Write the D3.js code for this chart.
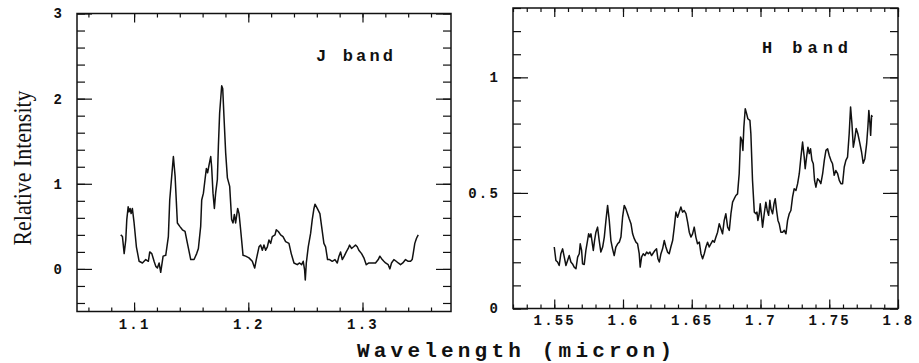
<!DOCTYPE html>
<html>
<head>
<meta charset="utf-8">
<script src="https://cdn.jsdelivr.net/npm/d3@7"></script>
<style>
  html, body { margin: 0; padding: 0; background: #fff; }
  svg { display: block; }
  .tick text { font-family: "Liberation Mono", monospace; font-size: 14px; font-weight: bold; letter-spacing: 2.2px; fill: #111; }
  .tick line { stroke: #111; stroke-width: 1.2px; }
</style>
</head>
<body>
<div id="chart"></div>
<script>
// J band spectrum (wavelength in micron, relative intensity)
const jWave = [1.0883, 1.0898, 1.0913, 1.0927, 1.0936, 1.0948, 1.0956, 1.0965, 1.0974, 1.0985,
  1.1000, 1.1020, 1.1044, 1.1073, 1.1102, 1.1125, 1.1137, 1.1155, 1.1175, 1.1190,
  1.1204, 1.1219, 1.1233, 1.1254, 1.1277, 1.1300, 1.1312, 1.1335, 1.1344, 1.1359,
  1.1379, 1.1400, 1.1423, 1.1446, 1.1467, 1.1496, 1.1525, 1.1548, 1.1563, 1.1583,
  1.1592, 1.1607, 1.1621, 1.1633, 1.1644, 1.1656, 1.1671, 1.1679, 1.1691, 1.1703,
  1.1714, 1.1729, 1.1738, 1.1749, 1.1758, 1.1767, 1.1776, 1.1787, 1.1802, 1.1817,
  1.1837, 1.1854, 1.1866, 1.1878, 1.1889, 1.1907, 1.1919, 1.1933, 1.1954, 1.1977,
  1.2006, 1.2035, 1.2056, 1.2070, 1.2094, 1.2108, 1.2123, 1.2137, 1.2152, 1.2167,
  1.2181, 1.2196, 1.2210, 1.2234, 1.2245, 1.2263, 1.2283, 1.2304, 1.2327, 1.2356,
  1.2376, 1.2400, 1.2429, 1.2449, 1.2467, 1.2481, 1.2493, 1.2499, 1.2508, 1.2525,
  1.2546, 1.2560, 1.2575, 1.2584, 1.2604, 1.2627, 1.2642, 1.2662, 1.2677, 1.2694,
  1.2712, 1.2735, 1.2759, 1.2779, 1.2794, 1.2808, 1.2823, 1.2840, 1.2858, 1.2875,
  1.2887, 1.2904, 1.2922, 1.2939, 1.2954, 1.2968, 1.2992, 1.3012, 1.3033, 1.3056,
  1.3085, 1.3114, 1.3138, 1.3152, 1.3173, 1.3187, 1.3202, 1.3225, 1.3240, 1.3254,
  1.3275, 1.3295, 1.3313, 1.3333, 1.3353, 1.3377, 1.3400, 1.3421, 1.3435, 1.3444,
  1.3458, 1.3473, 1.3488];
const jFlux = [0.40, 0.38, 0.18, 0.34, 0.58, 0.73, 0.67, 0.71, 0.65, 0.71,
  0.54, 0.26, 0.09, 0.07, 0.11, 0.09, 0.20, 0.18, 0.09, 0.03,
  0.01, 0.07, -0.04, 0.15, 0.16, 0.38, 0.81, 1.18, 1.32, 1.09,
  0.54, 0.50, 0.46, 0.44, 0.30, 0.11, 0.11, 0.18, 0.24, 0.50,
  0.81, 0.89, 1.05, 1.18, 1.13, 1.22, 1.32, 1.20, 0.89, 0.71,
  0.89, 1.05, 1.44, 1.83, 1.99, 2.15, 2.12, 1.79, 1.36, 1.07,
  0.97, 0.58, 0.54, 0.64, 0.54, 0.71, 0.65, 0.46, 0.16, 0.15,
  0.13, 0.09, 0.01, 0.11, 0.26, 0.28, 0.22, 0.28, 0.22, 0.26,
  0.34, 0.30, 0.38, 0.40, 0.46, 0.44, 0.40, 0.38, 0.32, 0.30,
  0.18, 0.07, 0.05, 0.07, 0.05, 0.09, -0.01, -0.13, 0.07, 0.26,
  0.42, 0.58, 0.71, 0.76, 0.71, 0.65, 0.50, 0.30, 0.26, 0.11,
  0.11, 0.09, 0.11, 0.07, 0.15, 0.20, 0.11, 0.15, 0.20, 0.24,
  0.28, 0.24, 0.26, 0.28, 0.26, 0.22, 0.18, 0.13, 0.05, 0.07,
  0.07, 0.07, 0.11, 0.15, 0.11, 0.09, 0.07, 0.05, 0.00, 0.07,
  0.11, 0.09, 0.07, 0.05, 0.07, 0.11, 0.09, 0.09, 0.11, 0.18,
  0.30, 0.36, 0.40];

// H band spectrum
const hWave = [1.5500, 1.5512, 1.5524, 1.5536, 1.5548, 1.5561, 1.5573, 1.5585, 1.5597, 1.5609,
  1.5621, 1.5633, 1.5645, 1.5658, 1.5670, 1.5682, 1.5689, 1.5699, 1.5706, 1.5718,
  1.5730, 1.5742, 1.5750, 1.5759, 1.5767, 1.5774, 1.5784, 1.5793, 1.5803, 1.5815,
  1.5827, 1.5839, 1.5852, 1.5864, 1.5876, 1.5888, 1.5900, 1.5912, 1.5924, 1.5936,
  1.5948, 1.5961, 1.5973, 1.5985, 1.5997, 1.6009, 1.6021, 1.6033, 1.6045, 1.6058,
  1.6070, 1.6082, 1.6094, 1.6106, 1.6118, 1.6125, 1.6135, 1.6147, 1.6159, 1.6172,
  1.6184, 1.6196, 1.6208, 1.6220, 1.6232, 1.6244, 1.6254, 1.6264, 1.6276, 1.6288,
  1.6300, 1.6312, 1.6324, 1.6336, 1.6348, 1.6361, 1.6373, 1.6385, 1.6397, 1.6409,
  1.6421, 1.6433, 1.6445, 1.6458, 1.6470, 1.6482, 1.6494, 1.6506, 1.6518, 1.6530,
  1.6542, 1.6555, 1.6567, 1.6579, 1.6591, 1.6603, 1.6615, 1.6627, 1.6639, 1.6652,
  1.6664, 1.6676, 1.6688, 1.6700, 1.6712, 1.6724, 1.6736, 1.6748, 1.6761, 1.6773,
  1.6785, 1.6797, 1.6809, 1.6821, 1.6833, 1.6845, 1.6855, 1.6865, 1.6872, 1.6879,
  1.6889, 1.6899, 1.6908, 1.6923, 1.6930, 1.6942, 1.6955, 1.6967, 1.6974, 1.6981,
  1.6991, 1.6998, 1.7008, 1.7015, 1.7027, 1.7039, 1.7049, 1.7059, 1.7068, 1.7076,
  1.7088, 1.7098, 1.7107, 1.7117, 1.7127, 1.7136, 1.7148, 1.7161, 1.7173, 1.7185,
  1.7197, 1.7209, 1.7221, 1.7233, 1.7245, 1.7258, 1.7270, 1.7282, 1.7294, 1.7306,
  1.7318, 1.7325, 1.7335, 1.7345, 1.7355, 1.7364, 1.7374, 1.7384, 1.7393, 1.7403,
  1.7415, 1.7427, 1.7439, 1.7452, 1.7464, 1.7476, 1.7488, 1.7500, 1.7512, 1.7524,
  1.7536, 1.7548, 1.7561, 1.7573, 1.7585, 1.7597, 1.7609, 1.7621, 1.7633, 1.7645,
  1.7655, 1.7665, 1.7675, 1.7684, 1.7696, 1.7708, 1.7723, 1.7735, 1.7747, 1.7759,
  1.7772, 1.7781, 1.7788, 1.7796, 1.7801, 1.7808, 1.7813];
const hFlux = [0.266, 0.208, 0.201, 0.186, 0.237, 0.258, 0.222, 0.186, 0.208, 0.229,
  0.201, 0.193, 0.179, 0.172, 0.222, 0.237, 0.280, 0.251, 0.193, 0.190,
  0.251, 0.294, 0.323, 0.309, 0.323, 0.294, 0.251, 0.294, 0.330, 0.352,
  0.294, 0.244, 0.266, 0.309, 0.381, 0.446, 0.381, 0.294, 0.258, 0.229,
  0.266, 0.280, 0.287, 0.309, 0.395, 0.446, 0.431, 0.410, 0.388, 0.367,
  0.323, 0.302, 0.287, 0.280, 0.237, 0.179, 0.222, 0.237, 0.229, 0.244,
  0.237, 0.244, 0.229, 0.240, 0.251, 0.258, 0.215, 0.201, 0.237, 0.258,
  0.294, 0.266, 0.244, 0.237, 0.266, 0.294, 0.352, 0.417, 0.395, 0.417,
  0.439, 0.417, 0.424, 0.410, 0.374, 0.330, 0.309, 0.323, 0.352, 0.309,
  0.280, 0.287, 0.237, 0.215, 0.237, 0.266, 0.287, 0.266, 0.280, 0.294,
  0.287, 0.309, 0.330, 0.367, 0.345, 0.323, 0.381, 0.410, 0.352, 0.338,
  0.410, 0.460, 0.475, 0.489, 0.496, 0.583, 0.742, 0.727, 0.684, 0.785,
  0.864, 0.843, 0.821, 0.814, 0.756, 0.554, 0.417, 0.410, 0.417, 0.381,
  0.410, 0.453, 0.395, 0.352, 0.410, 0.460, 0.424, 0.403, 0.468, 0.431,
  0.410, 0.453, 0.475, 0.424, 0.381, 0.367, 0.330, 0.330, 0.338, 0.323,
  0.381, 0.410, 0.424, 0.482, 0.518, 0.511, 0.540, 0.583, 0.655, 0.720,
  0.655, 0.605, 0.655, 0.698, 0.670, 0.691, 0.641, 0.626, 0.554, 0.525,
  0.561, 0.554, 0.540, 0.583, 0.641, 0.684, 0.691, 0.662, 0.641, 0.626,
  0.576, 0.597, 0.583, 0.554, 0.540, 0.540, 0.612, 0.641, 0.655, 0.756,
  0.872, 0.799, 0.698, 0.727, 0.779, 0.756, 0.713, 0.677, 0.628, 0.648,
  0.713, 0.785, 0.857, 0.799, 0.749, 0.835, 0.828];

// tick labels
const jXTicks = [1.1, 1.2, 1.3];
const jYTicks = [0, 1, 2, 3];
const hXTicks = [1.55, 1.6, 1.65, 1.7, 1.75, 1.8];
const hYTicks = [0, 0.5, 1];

const width = 919, height = 363;

const svg = d3.select('#chart').append('svg')
  .attr('width', width)
  .attr('height', height);

svg.append('rect').attr('width', width).attr('height', height).attr('fill', '#fff');

function minorTicks(domain, step) {
  const i0 = Math.ceil(domain[0] / step - 1e-6);
  const i1 = Math.floor(domain[1] / step + 1e-6);
  return d3.range(i0, i1 + 1).map(i => +(i * step).toFixed(4));
}

function drawPanel(p) {
  const x = d3.scaleLinear().domain(p.xDomain).range([p.left, p.right]);
  const y = d3.scaleLinear().domain(p.yDomain).range([p.bottom, p.top]);
  const g = svg.append('g');

  const xMinor = minorTicks(p.xDomain, p.xStep);
  const yMinor = minorTicks(p.yDomain, p.yStep);

  // bottom axis: labels + major ticks, then minor ticks
  g.append('g').attr('transform', `translate(0,${p.bottom})`)
    .call(d3.axisBottom(x).tickValues(p.xTicks).tickSize(-9).tickSizeOuter(0).tickPadding(p.xPad).tickFormat(d => String(d)));
  g.append('g').attr('transform', `translate(0,${p.bottom})`)
    .call(d3.axisBottom(x).tickValues(xMinor).tickSize(-4).tickSizeOuter(0).tickFormat(''));
  // top axis (ticks only)
  g.append('g').attr('transform', `translate(0,${p.top})`)
    .call(d3.axisTop(x).tickValues(p.xTicks).tickSize(-9).tickSizeOuter(0).tickFormat(''));
  g.append('g').attr('transform', `translate(0,${p.top})`)
    .call(d3.axisTop(x).tickValues(xMinor).tickSize(-4).tickSizeOuter(0).tickFormat(''));

  // left axis
  g.append('g').attr('transform', `translate(${p.left},0)`)
    .call(d3.axisLeft(y).tickValues(p.yTicks).tickSize(-15).tickSizeOuter(0).tickPadding(13).tickFormat(d => String(d)));
  g.append('g').attr('transform', `translate(${p.left},0)`)
    .call(d3.axisLeft(y).tickValues(yMinor).tickSize(-8).tickSizeOuter(0).tickFormat(''));
  // right axis (ticks only)
  g.append('g').attr('transform', `translate(${p.right},0)`)
    .call(d3.axisRight(y).tickValues(p.yTicks).tickSize(-15).tickSizeOuter(0).tickFormat(''));
  g.append('g').attr('transform', `translate(${p.right},0)`)
    .call(d3.axisRight(y).tickValues(yMinor).tickSize(-8).tickSizeOuter(0).tickFormat(''));

  g.selectAll('.domain').remove();

  // frame
  g.append('rect')
    .attr('x', p.left).attr('y', p.top)
    .attr('width', p.right - p.left).attr('height', p.bottom - p.top)
    .attr('fill', 'none').attr('stroke', '#111').attr('stroke-width', 1.5);

  // spectrum
  const pts = p.wave.map((w, i) => [w, p.flux[i]]);
  g.append('path')
    .datum(pts)
    .attr('fill', 'none')
    .attr('stroke', '#111')
    .attr('stroke-width', 1.5)
    .attr('stroke-linejoin', 'round')
    .attr('d', d3.line().x(d => x(d[0])).y(d => y(d[1])));

  // band label
  g.append('text')
    .attr('x', p.labelX).attr('y', p.labelY)
    .attr('textLength', p.labelLen).attr('lengthAdjust', 'spacing')
    .style('font-family', '"Liberation Mono", monospace')
    .style('font-size', '17px')
    .style('font-weight', 'bold')
    .attr('fill', '#111')
    .text(p.label);
}

drawPanel({
  xDomain: [1.05, 1.3775], yDomain: [-0.5, 3],
  left: 77, right: 451, top: 13.5, bottom: 311.5,
  xTicks: jXTicks, yTicks: jYTicks, xStep: 0.02, yStep: 0.2, xPad: 8,
  wave: jWave, flux: jFlux,
  label: 'J band', labelX: 316, labelY: 61, labelLen: 77
});

drawPanel({
  xDomain: [1.52, 1.8], yDomain: [0, 1.3],
  left: 513, right: 898, top: 8, bottom: 308.5,
  xTicks: hXTicks, yTicks: hYTicks, xStep: 0.01, yStep: 0.1, xPad: 7,
  wave: hWave, flux: hFlux,
  label: 'H band', labelX: 762, labelY: 53, labelLen: 86
});

// axis titles
svg.append('text')
  .attr('transform', 'translate(31,168) rotate(-90)')
  .attr('text-anchor', 'middle')
  .attr('textLength', 155).attr('lengthAdjust', 'spacingAndGlyphs')
  .style('font-family', '"Liberation Serif", serif')
  .style('font-size', '25px')
  .attr('fill', '#111')
  .text('Relative Intensity');

svg.append('text')
  .attr('x', 357).attr('y', 357)
  .attr('textLength', 315).attr('lengthAdjust', 'spacing')
  .style('font-family', '"Liberation Mono", monospace')
  .style('font-size', '21px')
  .style('font-weight', 'bold')
  .attr('fill', '#111')
  .text('Wavelength (micron)');
</script>
</body>
</html>
